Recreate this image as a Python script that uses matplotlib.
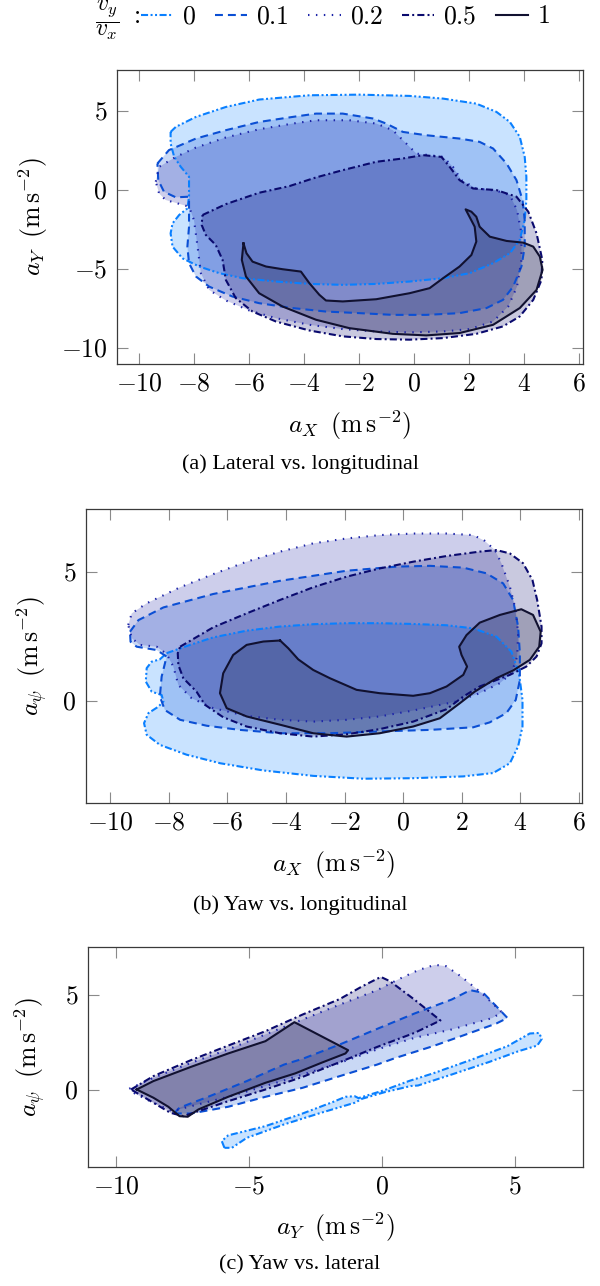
import numpy as np
import matplotlib
matplotlib.use("Agg")
import matplotlib.pyplot as plt
from matplotlib.lines import Line2D
from matplotlib.ticker import FuncFormatter

plt.rcParams["mathtext.fontset"] = "cm"
plt.rcParams["font.family"] = ["Liberation Serif", "DejaVu Serif"]

# ratio v_y / v_x of each envelope
ratios = ["0", "0.1", "0.2", "0.5", "1"]
colors = ["#0a80ff", "#0b4fd4", "#1c24a8", "#0a0a6e", "#111130"]
dashes = [(3.4, 1.2, 0.95, 1.2, 0.95, 1.2), (3.8, 2.4), (0.7, 3.1), (3.4, 1.5, 0.95, 1.5), None]

# (a) lateral vs longitudinal: (a_X, a_Y)
a_0 = [(-8.85, 3.66), (-8.66, 3.98), (-7.93, 4.61), (-6.84, 5.24), (-5.63, 5.71), (-3.80, 5.98),
       (-1.98, 6.02), (-0.16, 5.94), (1.06, 5.77), (2.27, 5.45), (3.00, 4.93), (3.49, 4.29),
       (3.85, 3.35), (4.03, 2.08), (4.09, 0.82), (4.09, -0.65), (4.03, -1.92), (3.85, -3.18),
       (3.49, -4.02), (2.88, -4.65), (2.03, -5.28), (1.06, -5.60), (-0.16, -5.81), (-1.37, -5.96),
       (-2.59, -6.02), (-3.80, -5.96), (-5.02, -5.81), (-6.23, -5.60), (-7.08, -5.28), (-7.81, -4.86),
       (-8.42, -4.34), (-8.78, -3.60), (-8.85, -2.76), (-8.78, -2.13), (-8.54, -1.60), (-8.24, -1.18),
       (-8.18, -0.44), (-8.18, 0.82), (-8.48, 1.45), (-8.72, 2.08), (-8.85, 2.93)]
a_1 = [(-9.33, 1.66), (-8.91, 2.51), (-7.93, 3.24), (-6.84, 3.77), (-5.63, 4.29), (-4.41, 4.61),
       (-3.56, 4.82), (-2.59, 4.82), (-1.49, 4.51), (-1.01, 4.19), (-0.40, 3.66), (0.45, 3.45),
       (1.66, 3.24), (2.39, 3.03), (2.88, 2.61), (3.37, 1.66), (3.73, 0.61), (3.95, -0.65),
       (4.03, -1.92), (4.03, -3.60), (3.91, -4.86), (3.61, -6.13), (3.24, -6.97), (2.64, -7.49),
       (1.66, -7.81), (0.45, -7.92), (-0.77, -7.92), (-1.98, -7.81), (-3.20, -7.71), (-4.41, -7.49),
       (-5.63, -7.18), (-6.60, -6.76), (-7.45, -6.13), (-7.93, -5.49), (-8.18, -4.65), (-8.24, -3.60),
       (-8.18, -2.34), (-8.18, -0.44), (-8.66, -0.48), (-9.09, -0.13), (-9.30, 0.61)]
a_2 = [(-9.39, 0.51), (-9.27, 1.45), (-8.66, 2.08), (-7.93, 2.67), (-6.84, 3.31), (-5.63, 3.83),
       (-4.41, 4.19), (-3.56, 4.40), (-2.35, 4.40), (-1.37, 4.19), (-0.77, 3.77), (-0.28, 2.93),
       (0.09, 2.29), (1.06, 2.08), (1.42, 1.45), (1.73, 0.61), (2.27, 0.08), (3.00, -0.06),
       (3.49, -0.34), (3.75, -1.28), (3.91, -2.76), (3.91, -4.44), (3.75, -6.13), (3.43, -7.39),
       (2.88, -8.34), (2.03, -8.82), (1.06, -8.97), (-0.16, -9.03), (-1.37, -8.97), (-2.59, -8.82),
       (-3.80, -8.55), (-5.02, -8.13), (-5.99, -7.64), (-6.84, -7.01), (-7.45, -6.34), (-7.75, -5.28),
       (-7.87, -3.60), (-8.00, -1.92), (-8.18, -1.07), (-9.03, -0.65), (-9.27, -0.23)]
a_3 = [(-7.69, -1.60), (-6.84, -0.91), (-5.63, -0.19), (-4.53, 0.23), (-3.56, 0.78), (-2.59, 1.24),
       (-1.37, 1.77), (-0.40, 1.98), (0.33, 2.19), (1.00, 2.08), (1.30, 1.45), (1.66, 0.61),
       (2.15, 0.08), (3.00, -0.02), (3.73, -0.44), (4.16, -1.39), (4.46, -2.76), (4.67, -4.44),
       (4.64, -5.71), (4.34, -6.97), (3.85, -8.02), (3.24, -8.65), (2.27, -9.12), (1.06, -9.39),
       (-0.16, -9.49), (-1.37, -9.45), (-2.59, -9.28), (-3.80, -8.91), (-5.02, -8.34), (-5.87, -7.71),
       (-6.48, -6.86), (-6.84, -5.71), (-6.96, -4.44), (-7.21, -3.49), (-7.57, -2.86), (-7.72, -2.23)]
a_4 = [(-6.20, -3.39), (-6.26, -4.44), (-6.11, -5.49), (-5.63, -6.55), (-4.78, -7.39), (-3.56, -8.23),
       (-2.35, -8.76), (-0.77, -9.12), (0.45, -9.22), (1.66, -9.07), (2.88, -8.55), (3.85, -7.49),
       (4.46, -6.34), (4.68, -5.07), (4.58, -4.23), (4.34, -3.60), (3.98, -3.35), (3.37, -3.24),
       (2.76, -2.97), (2.39, -2.34), (2.27, -1.71), (2.09, -1.39), (1.88, -1.24), (2.21, -2.34),
       (2.27, -3.28), (2.09, -4.13), (1.66, -4.86), (1.06, -5.60), (0.57, -6.23), (-0.16, -6.55),
       (-1.37, -6.93), (-2.59, -7.07), (-3.20, -7.01), (-3.44, -6.65), (-3.80, -5.92), (-4.11, -5.18),
       (-4.78, -5.03), (-5.38, -4.86), (-5.87, -4.55), (-6.09, -4.02)]

# (b) yaw vs longitudinal: (a_X, a_psi)
b_0 = [(-8.07, 1.86), (-7.27, 2.18), (-6.48, 2.47), (-5.34, 2.73), (-4.20, 2.89), (-3.07, 2.98),
       (-1.93, 3.02), (-0.80, 3.02), (0.34, 2.99), (1.48, 2.94), (2.39, 2.82), (3.18, 2.50),
       (3.69, 1.92), (3.95, 1.08), (4.07, 0.05), (4.07, -0.98), (3.92, -1.75), (3.64, -2.40),
       (3.07, -2.78), (2.05, -2.91), (0.34, -2.98), (-1.36, -3.00), (-3.07, -2.89), (-4.77, -2.68),
       (-6.25, -2.40), (-7.39, -2.07), (-8.30, -1.69), (-8.75, -1.30), (-8.84, -0.85), (-8.69, -0.46),
       (-8.35, -0.21), (-8.18, -0.01), (-8.24, 0.24), (-8.58, 0.37), (-8.78, 0.76), (-8.75, 1.28),
       (-8.58, 1.53), (-8.30, 1.62)]
b_1 = [(-9.32, 2.69), (-9.03, 3.14), (-8.18, 3.63), (-6.48, 4.15), (-4.20, 4.66), (-1.93, 5.05),
       (-0.23, 5.21), (0.91, 5.24), (2.05, 5.17), (2.84, 4.95), (3.41, 4.56), (3.75, 3.92),
       (3.92, 2.89), (3.98, 1.86), (3.98, 0.82), (3.84, 0.05), (3.52, -0.46), (2.95, -0.82),
       (2.39, -1.01), (0.91, -1.11), (-0.80, -1.17), (-2.50, -1.24), (-4.20, -1.24), (-5.57, -1.11),
       (-6.70, -0.95), (-7.61, -0.72), (-8.13, -0.34), (-8.30, 0.18), (-8.24, 0.95), (-8.07, 1.73),
       (-8.41, 1.98), (-9.09, 2.11), (-9.30, 2.30)]
b_2 = [(-9.38, 2.95), (-9.26, 3.40), (-8.75, 3.79), (-7.61, 4.41), (-6.48, 4.92), (-5.34, 5.40),
       (-4.20, 5.79), (-3.07, 6.11), (-1.93, 6.30), (-0.80, 6.43), (0.34, 6.49), (1.48, 6.49),
       (2.39, 6.43), (2.78, 6.21), (3.13, 5.85), (3.35, 5.34), (3.64, 4.43), (3.84, 3.53),
       (3.92, 2.63), (3.89, 1.73), (3.69, 1.08), (3.30, 0.70), (2.61, 0.31), (1.82, -0.01),
       (0.34, -0.36), (-0.80, -0.59), (-1.93, -0.72), (-3.07, -0.79), (-4.20, -0.72), (-5.34, -0.57),
       (-6.48, -0.27), (-7.22, 0.12), (-7.67, 0.63), (-7.84, 1.34), (-8.07, 1.83), (-8.41, 2.11),
       (-8.98, 2.18), (-9.26, 2.44)]
b_3 = [(-7.61, 2.11), (-6.48, 2.86), (-5.34, 3.40), (-4.20, 3.92), (-3.07, 4.41), (-1.93, 4.82),
       (-0.80, 5.14), (0.34, 5.40), (1.48, 5.62), (2.61, 5.79), (3.18, 5.85), (3.64, 5.72),
       (4.09, 5.34), (4.41, 4.69), (4.57, 3.92), (4.72, 2.89), (4.72, 2.24), (4.55, 1.73),
       (4.20, 1.34), (3.64, 1.02), (2.61, 0.57), (2.05, 0.18), (1.48, -0.31), (0.34, -0.79),
       (-0.80, -1.08), (-1.93, -1.28), (-3.07, -1.37), (-4.20, -1.24), (-5.34, -0.98), (-6.14, -0.62),
       (-6.76, -0.14), (-7.05, 0.37), (-7.50, 0.89), (-7.67, 1.40), (-7.69, 1.86)]
b_4 = [(-4.20, 2.35), (-3.92, 2.05), (-3.58, 1.62), (-3.07, 1.21), (-2.50, 0.89), (-1.59, 0.44),
       (-0.80, 0.31), (0.34, 0.21), (0.91, 0.31), (1.48, 0.57), (2.05, 1.02), (2.18, 1.34),
       (1.99, 1.79), (1.91, 2.11), (2.16, 2.56), (2.61, 3.04), (3.30, 3.34), (4.03, 3.56),
       (4.43, 3.34), (4.69, 2.69), (4.64, 2.11), (4.32, 1.60), (3.75, 1.19), (3.18, 0.89),
       (2.44, 0.37), (1.93, -0.08), (1.25, -0.66), (0.34, -0.98), (-0.80, -1.24), (-1.93, -1.37),
       (-3.07, -1.24), (-4.20, -0.91), (-5.34, -0.59), (-6.02, -0.27), (-6.25, 0.31), (-6.14, 1.08),
       (-5.80, 1.79), (-5.34, 2.18), (-4.77, 2.31)]

# (c) yaw vs lateral: (a_Y, a_psi)
c_0 = [(-5.92, -2.99), (-6.02, -2.64), (-5.78, -2.34), (-4.38, -1.86), (-2.98, -1.20), (-1.86, -0.61),
       (-1.37, -0.33), (-1.02, -0.30), (-0.88, -0.40), (0.10, 0.02), (1.01, 0.49), (1.92, 0.89),
       (3.32, 1.58), (4.72, 2.31), (5.56, 2.97), (5.91, 3.00), (6.01, 2.69), (5.84, 2.34),
       (5.14, 2.05), (4.02, 1.48), (2.62, 0.83), (1.36, 0.26), (1.08, 0.23), (0.10, -0.09),
       (-0.74, -0.43), (-1.02, -0.64), (-2.28, -1.16), (-3.68, -1.77), (-5.08, -2.47), (-5.64, -2.99)]
c_1 = [(-7.82, -1.20), (-7.61, -0.90), (-6.48, -0.30), (-5.08, 0.49), (-3.68, 1.35), (-2.98, 1.65),
       (-1.58, 2.40), (-0.18, 3.21), (1.22, 4.01), (2.62, 4.74), (3.32, 5.23), (3.81, 5.09),
       (4.30, 4.39), (4.72, 3.78), (4.30, 3.49), (3.32, 3.00), (1.92, 2.31), (0.52, 1.70),
       (-0.18, 1.35), (-1.58, 0.75), (-2.98, 0.14), (-4.38, -0.33), (-5.78, -0.85), (-7.18, -1.20)]
c_2 = [(-9.50, 0.09), (-8.59, 0.66), (-7.18, 1.44), (-5.78, 2.14), (-4.38, 2.92), (-2.98, 3.70),
       (-1.58, 4.48), (-0.18, 5.23), (0.66, 5.82), (1.36, 6.27), (1.99, 6.55), (2.41, 6.48),
       (2.97, 5.95), (3.74, 5.09), (4.51, 4.08), (4.16, 3.78), (2.62, 3.18), (1.22, 2.74),
       (-0.18, 2.14), (-1.58, 1.44), (-2.98, 0.83), (-4.38, 0.23), (-5.78, -0.33), (-7.18, -0.82),
       (-7.89, -1.08), (-8.59, -0.64), (-9.29, -0.16)]
c_3 = [(-9.43, 0.05), (-8.59, 0.75), (-7.18, 1.58), (-5.78, 2.34), (-4.38, 3.09), (-2.98, 3.96),
       (-1.58, 4.77), (-0.74, 5.43), (-0.04, 5.92), (0.31, 5.69), (1.22, 4.74), (2.20, 3.65),
       (1.22, 3.00), (-0.18, 2.27), (-1.58, 1.48), (-2.98, 0.71), (-4.38, 0.05), (-5.78, -0.56),
       (-6.90, -1.08), (-7.46, -1.34), (-7.96, -1.16), (-8.59, -0.64)]
c_4 = [(-9.22, 0.05), (-8.59, 0.49), (-7.18, 1.23), (-5.78, 1.93), (-4.38, 2.57), (-3.29, 3.56),
       (-2.28, 2.83), (-1.27, 2.10), (-1.37, 1.93), (-2.28, 1.44), (-3.26, 0.89), (-4.38, 0.40),
       (-5.78, -0.33), (-6.90, -0.99), (-7.30, -1.37), (-7.61, -1.34), (-8.03, -0.85), (-8.59, -0.38)]

xticks_a = [-10, -8, -6, -4, -2, 0, 2, 4, 6]
yticks_a = [-10, -5, 0, 5]
xticks_b = [-10, -8, -6, -4, -2, 0, 2, 4, 6]
yticks_b = [0, 5]
xticks_c = [-10, -5, 0, 5]
yticks_c = [0, 5]

unit = r"\;\;(\mathrm{m}\,\mathrm{s}^{-2})$"
panels = [
    dict(shapes=[a_0, a_1, a_2, a_3, a_4], rect=(117, 70, 466, 294), xlim=(-10.8, 6.15), ylim=(-11.03, 7.58),
         xticks=xticks_a, yticks=yticks_a, xlabel=r"$a_X" + unit, ylabel=r"$a_Y" + unit,
         ylab_x=33, xlab_y=425, caption="(a) Lateral vs. longitudinal", cap_y=464),
    dict(shapes=[b_0, b_1, b_2, b_3, b_4], rect=(86, 509, 496, 294), xlim=(-10.82, 6.10), ylim=(-3.94, 7.44),
         xticks=xticks_b, yticks=yticks_b, xlabel=r"$a_X" + unit, ylabel=r"$a_\psi" + unit,
         ylab_x=32, xlab_y=864, caption="(b) Yaw vs. longitudinal", cap_y=905),
    dict(shapes=[c_0, c_1, c_2, c_3, c_4], rect=(88, 947, 495, 220), xlim=(-11.05, 7.56), ylim=(-3.99, 7.48),
         xticks=xticks_c, yticks=yticks_c, xlabel=r"$a_Y" + unit, ylabel=r"$a_\psi" + unit,
         ylab_x=30, xlab_y=1227, caption="(c) Yaw vs. lateral", cap_y=1265),
]

W, H = 600, 1286
FS = 18.5
LW = 1.5
fig = plt.figure(figsize=(W / 100, H / 100), dpi=100)
fmt = FuncFormatter(lambda v, _: f"${v:g}$")

for p in panels:
    x0, y0, w, h = p["rect"]
    ax = fig.add_axes([x0 / W, 1 - (y0 + h) / H, w / W, h / H])
    for pts, col, ds in zip(p["shapes"], colors, dashes):
        xs = [q[0] for q in pts] + [pts[0][0]]
        ys = [q[1] for q in pts] + [pts[0][1]]
        ax.fill(xs, ys, facecolor=col, alpha=0.22, edgecolor="none")
        ln, = ax.plot(xs, ys, color=col, lw=LW, solid_joinstyle="round")
        if ds is not None:
            ln.set_dashes(ds)
    ax.set_xlim(*p["xlim"])
    ax.set_ylim(*p["ylim"])
    ax.set_xticks(p["xticks"])
    ax.set_yticks(p["yticks"])
    ax.xaxis.set_major_formatter(fmt)
    ax.yaxis.set_major_formatter(fmt)
    ax.tick_params(direction="in", length=8, width=0.8, color="#8a8a8a", labelsize=FS,
                   top=True, right=True, pad=7)
    for s in ax.spines.values():
        s.set_color("#3a3a3a")
        s.set_linewidth(0.9)
    ax.set_xlabel(p["xlabel"], fontsize=FS, va="center")
    ax.xaxis.set_label_coords(0.5, -(p["xlab_y"] - (y0 + h)) / h)
    ax.set_ylabel(p["ylabel"], fontsize=FS, va="center")
    ax.yaxis.set_label_coords((p["ylab_x"] - x0) / w, 0.5)
    fig.text(0.5, 1 - p["cap_y"] / H, p["caption"], ha="center", va="center", fontsize=16)

# legend on top
handles = []
for col, ds in zip(colors, dashes):
    h_ = Line2D([], [], color=col, lw=LW)
    if ds is not None:
        h_.set_dashes(ds)
    handles.append(h_)
fig.text(95 / W, 1 - 20 / H, r"$\dfrac{v_y}{v_x}$", fontsize=17, ha="left", va="center")
fig.text(129 / W, 1 - 17 / H, r"$:$", fontsize=FS, ha="left", va="center")
fig.legend(handles, [f"${r}$" for r in ratios], loc="center left", bbox_to_anchor=(141 / W, 1 - 17 / H),
           ncol=5, frameon=False, fontsize=FS, handlelength=1.25, handletextpad=0.35,
           columnspacing=0.75, borderpad=0, borderaxespad=0)

fig.savefig("out.png", dpi=100)
